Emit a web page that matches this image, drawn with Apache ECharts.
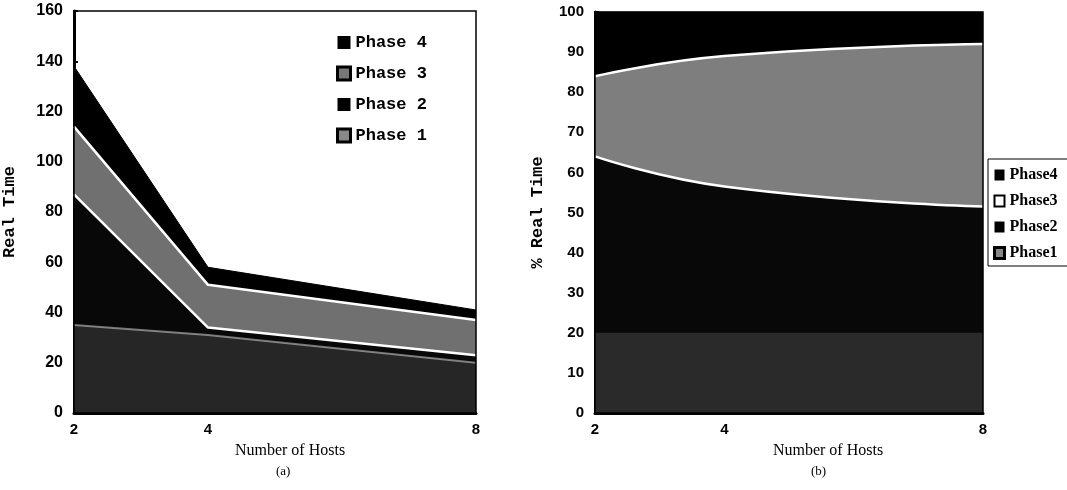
<!DOCTYPE html>
<html>
<head>
<meta charset="utf-8">
<script src="https://cdn.jsdelivr.net/npm/echarts@6/dist/echarts.min.js"></script>
<style>
  html, body { margin: 0; padding: 0; background: #fff; }
  #main { width: 1067px; height: 490px; }
</style>
</head>
<body>
<div id="main"></div>
<script>
// number of hosts (x axis)
var hosts = [2, 4, 8];

// (a) real time per phase
var phase1A = [35, 31, 20];
var phase2A = [52, 3, 3];
var phase3A = [27, 17, 14];
var phase4A = [24, 7, 4];

// (b) % of real time per phase
var phase1B = [20, 20, 20];
var phase2B = [44, 36.5, 31.5];
var phase3B = [20, 32.5, 40.5];
var phase4B = [16, 11, 8];

var yTicksA = [0, 160, 20];
var yTicksB = [0, 100, 10];

// running totals, so each layer is filled from 0 up to its top edge
function cumulate(layers) {
  var sum = hosts.map(function () { return 0; });
  return layers.map(function (arr) {
    sum = sum.map(function (s, i) { return s + arr[i]; });
    return hosts.map(function (h, i) { return [h, sum[i]]; });
  });
}

var topsA = cumulate([phase1A, phase2A, phase3A, phase4A]);
var topsB = cumulate([phase1B, phase2B, phase3B, phase4B]);

function area(name, data, idx, fill, line, lineW, z, smooth) {
  return {
    name: name,
    type: 'line',
    xAxisIndex: idx,
    yAxisIndex: idx,
    smooth: smooth,
    symbol: 'none',
    z: z,
    data: data,
    itemStyle: { color: fill },
    lineStyle: { color: line, width: lineW },
    areaStyle: { color: fill, opacity: 1, origin: 'start' }
  };
}

var tickFont = { fontFamily: 'Liberation Sans', fontWeight: 'bold', color: '#000' };

function xAxis(idx, namePad) {
  return {
    gridIndex: idx,
    type: 'value',
    min: 2, max: 8, interval: 2,
    name: 'Number of Hosts',
    nameLocation: 'middle',
    nameGap: 30,
    nameTextStyle: { fontFamily: 'Liberation Serif', fontSize: 16, color: '#000', padding: [0, 0, 0, namePad] },
    axisLine: { lineStyle: { color: '#000', width: 3 } },
    axisTick: { show: false },
    splitLine: { show: false },
    axisLabel: Object.assign({
      fontSize: 15, margin: 9,
      formatter: function (v) { return hosts.indexOf(v) >= 0 ? String(v) : ''; }
    }, tickFont)
  };
}

function yAxis(idx, ticks, name, gap, fs) {
  return {
    gridIndex: idx,
    type: 'value',
    min: ticks[0], max: ticks[1], interval: ticks[2],
    name: name,
    nameLocation: 'middle',
    nameRotate: 90,
    nameGap: gap,
    nameTextStyle: { fontFamily: 'Liberation Mono', fontWeight: 'bold', fontSize: 17, color: '#000' },
    axisLine: { show: true, lineStyle: { color: '#000', width: 3 } },
    axisTick: { show: true, inside: true, length: 4, lineStyle: { color: '#000', width: 2 } },
    splitLine: { show: false },
    axisLabel: Object.assign({ fontSize: fs, margin: 11 }, tickFont)
  };
}

var chart = echarts.init(document.getElementById('main'), null, { renderer: 'canvas' });

chart.setOption({
  backgroundColor: '#fff',
  animation: false,
  grid: [
    { left: 72, top: 11, width: 404, height: 402, show: true, borderColor: '#000', borderWidth: 1.5, backgroundColor: 'transparent', z: 20 },
    { left: 595, top: 12, width: 388, height: 401, show: true, borderColor: '#000', borderWidth: 1.5, backgroundColor: 'transparent', z: 20 }
  ],
  xAxis: [xAxis(0, 30), xAxis(1, 78)],
  yAxis: [yAxis(0, yTicksA, 'Real Time', 56, 16), yAxis(1, yTicksB, '% Real Time', 49, 15)],
  legend: [
    {
      left: 331, top: 29, orient: 'vertical',
      itemWidth: 13, itemHeight: 13, itemGap: 14,
      icon: 'rect',
      textStyle: { fontFamily: 'Liberation Mono', fontWeight: 'bold', fontSize: 17, lineHeight: 16, color: '#000' },
      data: [
        { name: 'Phase 4', itemStyle: { color: '#000' } },
        { name: 'Phase 3', itemStyle: { color: '#777', borderColor: '#000', borderWidth: 3 } },
        { name: 'Phase 2', itemStyle: { color: '#000' } },
        { name: 'Phase 1', itemStyle: { color: '#888', borderColor: '#000', borderWidth: 3 } }
      ]
    },
    {
      left: 988, top: 159, orient: 'vertical',
      padding: [8, 20, 5, 5],
      borderColor: '#000', borderWidth: 1,
      backgroundColor: '#fff',
      itemWidth: 10, itemHeight: 11, itemGap: 10,
      icon: 'rect',
      textStyle: { fontFamily: 'Liberation Serif', fontWeight: 'bold', fontSize: 16, lineHeight: 16, color: '#000' },
      data: [
        { name: 'Phase4', itemStyle: { color: '#000' } },
        { name: 'Phase3', itemStyle: { color: '#fff', borderColor: '#000', borderWidth: 2 } },
        { name: 'Phase2', itemStyle: { color: '#000' } },
        { name: 'Phase1', itemStyle: { color: '#888', borderColor: '#000', borderWidth: 3 } }
      ]
    }
  ],
  graphic: [
    { type: 'text', left: 276, top: 465, style: { text: '(a)', font: '13px "Liberation Serif"', fill: '#000' } },
    { type: 'text', left: 811, top: 465, style: { text: '(b)', font: '13px "Liberation Serif"', fill: '#000' } }
  ],
  series: [
    area('Phase 1', topsA[0], 0, '#262626', 'rgba(255,255,255,0.45)', 2, 8, false),
    area('Phase 2', topsA[1], 0, '#080808', '#fff', 2.5, 7, false),
    area('Phase 3', topsA[2], 0, '#707070', '#fff', 2.5, 6, false),
    area('Phase 4', topsA[3], 0, '#000', '#000', 1, 5, false),
    area('Phase1', topsB[0], 1, '#2a2a2a', '#2a2a2a', 0, 8, 0.5),
    area('Phase2', topsB[1], 1, '#080808', '#fff', 2.5, 7, 0.5),
    area('Phase3', topsB[2], 1, '#7e7e7e', '#fff', 2.5, 6, 0.5),
    area('Phase4', topsB[3], 1, '#000', '#000', 1, 5, 0.5)
  ]
});
</script>
</body>
</html>
